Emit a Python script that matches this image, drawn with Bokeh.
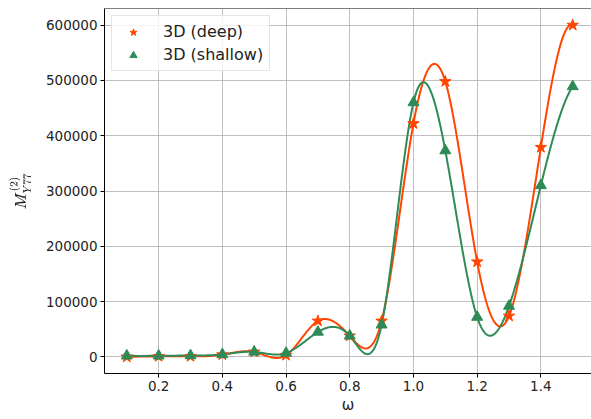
import numpy as np
from bokeh.plotting import figure
from bokeh.models import Range1d, Legend, LegendItem, Span
from bokeh.embed import file_html
from bokeh.resources import INLINE

# ---- data ----
omega = [0.1, 0.2, 0.3, 0.4, 0.5, 0.6, 0.7, 0.8, 0.9, 1.0, 1.1, 1.2, 1.3, 1.4, 1.5]
deep = [0, 1000, 1000, 4000, 9000, 3000, 65000, 38000, 65000,
        422000, 498000, 172000, 74000, 379000, 600000]
shallow = [2000, 2000, 2500, 4500, 9000, 7000, 45000, 38000, 58000,
           460000, 373000, 72000, 92000, 310000, 489000]
x_ticks = [0.2, 0.4, 0.6, 0.8, 1.0, 1.2, 1.4]
y_ticks = [0, 100000, 200000, 300000, 400000, 500000, 600000]


def not_a_knot_spline(x, y, n=600):
    """Cubic interpolating spline (not-a-knot) through the given points."""
    x = np.asarray(x, float)
    y = np.asarray(y, float)
    m = len(x)
    h = np.diff(x)
    A = np.zeros((m, m))
    b = np.zeros(m)
    A[0, 0], A[0, 1], A[0, 2] = h[1], -(h[0] + h[1]), h[0]
    A[-1, -3], A[-1, -2], A[-1, -1] = h[-1], -(h[-2] + h[-1]), h[-2]
    for i in range(1, m - 1):
        A[i, i - 1] = h[i - 1]
        A[i, i] = 2 * (h[i - 1] + h[i])
        A[i, i + 1] = h[i]
        b[i] = 6 * ((y[i + 1] - y[i]) / h[i] - (y[i] - y[i - 1]) / h[i - 1])
    M = np.linalg.solve(A, b)
    xs = np.linspace(x[0], x[-1], n)
    idx = np.clip(np.searchsorted(x, xs) - 1, 0, m - 2)
    x0, x1 = x[idx], x[idx + 1]
    hh = x1 - x0
    a = (x1 - xs) / hh
    c = (xs - x0) / hh
    ys = (a * y[idx] + c * y[idx + 1]
          + ((a ** 3 - a) * M[idx] + (c ** 3 - c) * M[idx + 1]) * hh ** 2 / 6)
    return xs, ys


RED = "#FF4500"
GREEN = "#2E8B57"
FONT = "DejaVu Sans"

p = figure(width=591, height=419, output_backend="svg", toolbar_location=None,
           x_range=Range1d(0.03, 1.559), y_range=Range1d(-30000, 630000),
           min_border_left=104, min_border_right=0, min_border_top=8,
           min_border_bottom=46)
p.outline_line_color = None
p.background_fill_color = "white"
p.border_fill_color = "white"

xd, yd = not_a_knot_spline(omega, deep)
xs_, ys_ = not_a_knot_spline(omega, shallow)
p.line(xd, yd, line_color=RED, line_width=2)
p.line(xs_, ys_, line_color=GREEN, line_width=2)
r_deep = p.scatter(omega, deep, marker="star", size=12, fill_color=RED,
                   line_color=RED)
r_sh = p.scatter(omega, shallow, marker="triangle", size=11, fill_color=GREEN,
                 line_color=GREEN)

# top spine
p.add_layout(Span(location=630000, dimension="width", line_color="black",
                  line_width=1))

for ax in (p.xaxis[0], p.yaxis[0]):
    ax.axis_line_color = "black"
    ax.major_tick_line_color = "black"
    ax.major_tick_in = 0
    ax.major_tick_out = 4
    ax.minor_tick_line_color = None
    ax.major_label_text_font = FONT
    ax.major_label_text_font_size = "13.5px"
    ax.major_label_text_color = "#222222"
    ax.axis_label_text_font = FONT
    ax.axis_label_text_font_size = "15px"
    ax.axis_label_text_font_style = "normal"
    ax.axis_label_text_color = "#222222"
    ax.major_label_standoff = 3

p.xaxis.ticker = x_ticks
p.yaxis.ticker = y_ticks
p.xaxis.major_label_overrides = {t: f"{t:.1f}" for t in x_ticks}
p.yaxis.major_label_overrides = {t: str(t) for t in y_ticks}
p.xaxis.axis_label = "ω"
p.xaxis.axis_label_standoff = 2
p.yaxis.axis_label = r"$$M^{(2)}_{Y77}$$"
p.yaxis.axis_label_text_font_size = "13px"
p.yaxis.axis_label_standoff = 12

p.xgrid.ticker = x_ticks
p.ygrid.ticker = y_ticks
p.grid.grid_line_color = "#b0b0b0"
p.grid.grid_line_width = 0.8

legend = Legend(items=[LegendItem(label="3D (deep)", renderers=[r_deep]),
                       LegendItem(label="3D (shallow)", renderers=[r_sh])],
                location="top_left")
legend.margin = 7
legend.padding = 6
legend.spacing = 4
legend.glyph_width = 30
legend.glyph_height = 18
legend.label_height = 18
legend.label_standoff = 15
legend.label_text_font = FONT
legend.label_text_font_size = "16px"
legend.label_text_color = "#222222"
legend.border_line_color = "#cccccc"
legend.background_fill_alpha = 0.8
p.add_layout(legend)

open("out.html", "w").write(file_html(p, INLINE))
